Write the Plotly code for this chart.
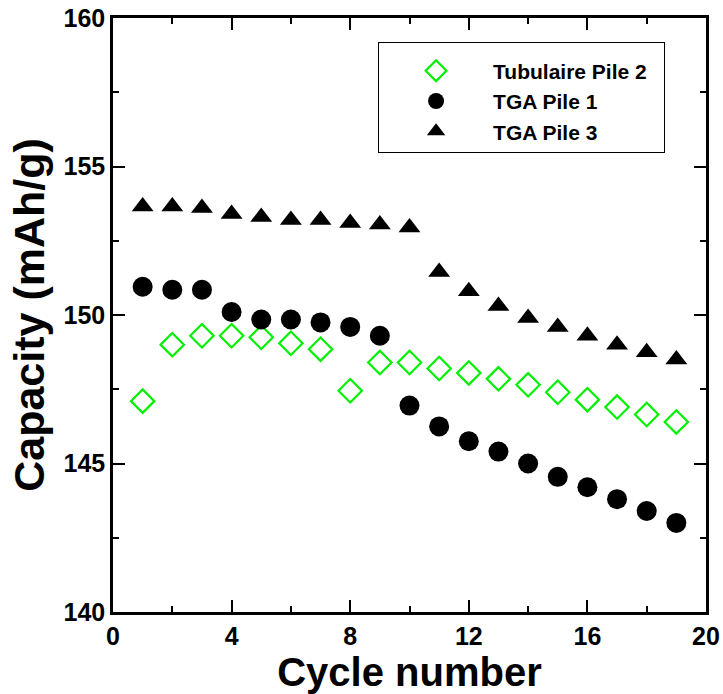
import plotly.graph_objects as go

# Discharge capacity per cycle
cycles = list(range(1, 20))
tubulaire_pile2 = [147.1, 149.0, 149.3, 149.3, 149.25, 149.05, 148.85, 147.45, 148.4, 148.4,
                   148.2, 148.05, 147.85, 147.65, 147.4, 147.15, 146.9, 146.65, 146.4]
tga_pile1 = [150.95, 150.85, 150.85, 150.1, 149.85, 149.85, 149.75, 149.6, 149.3, 146.95,
             146.25, 145.75, 145.4, 145.0, 144.55, 144.2, 143.8, 143.4, 143.0]
tga_pile3 = [153.65, 153.65, 153.6, 153.4, 153.3, 153.2, 153.2, 153.1, 153.05, 152.95,
             151.45, 150.8, 150.3, 149.9, 149.6, 149.3, 149.0, 148.75, 148.5]

# Axis tick positions
x_ticks = [0, 4, 8, 12, 16, 20]
y_ticks = [140, 145, 150, 155, 160]

FONT = "Liberation Sans"
GREEN = "#00f000"

fig = go.Figure()
fig.add_trace(go.Scatter(
    x=cycles, y=tubulaire_pile2, mode="markers", name="Tubulaire Pile 2&nbsp;&nbsp;",
    legendgroup="a",
    marker=dict(symbol="diamond-open", size=18, color=GREEN, line=dict(width=2.2, color=GREEN)),
))
fig.add_trace(go.Scatter(
    x=cycles, y=tga_pile1, mode="markers", name="TGA Pile 1",
    legendgroup="b",
    marker=dict(symbol="circle", size=20, color="black"),
))
fig.add_trace(go.Scatter(
    x=cycles, y=tga_pile3, mode="markers", name="TGA Pile 3",
    legendgroup="c",
    marker=dict(symbol="triangle-up", size=19, color="black"),
))

tick_font = dict(family=FONT, size=25, color="black", weight="bold")

fig.update_xaxes(
    range=[0, 20], tickmode="array", tickvals=x_ticks,
    showline=True, linecolor="black", linewidth=2.5, mirror="ticks",
    ticks="inside", ticklen=12, tickwidth=2, tickcolor="black",
    showgrid=False, zeroline=False, automargin=False,
    tickfont=tick_font,
    minor=dict(ticks="inside", ticklen=6, tickwidth=2, tickcolor="black",
               tickvals=[2, 6, 10, 14, 18], showgrid=False),
    title=dict(text="Cycle number", font=dict(family=FONT, size=40, color="black", weight="bold"), standoff=4),
)
fig.update_yaxes(
    range=[140, 160], tickmode="array", tickvals=y_ticks,
    showline=True, linecolor="black", linewidth=2.5, mirror="ticks",
    ticks="inside", ticklen=12, tickwidth=2, tickcolor="black",
    showgrid=False, zeroline=False, automargin=False,
    tickfont=tick_font,
    minor=dict(ticks="inside", ticklen=6, tickwidth=2, tickcolor="black",
               tickvals=[142.5, 147.5, 152.5, 157.5], showgrid=False),
    title=dict(text="Capacity (mAh/g)", font=dict(family=FONT, size=43, color="black", weight="bold"), standoff=6),
)

fig.update_layout(
    width=723, height=694,
    margin=dict(l=113, r=17, t=18, b=82),
    paper_bgcolor="white", plot_bgcolor="white",
    showlegend=True,
    legend=dict(
        x=0.447, y=0.96, xanchor="left", yanchor="top",
        bordercolor="black", borderwidth=1, bgcolor="white",
        font=dict(family=FONT, size=21, color="black", weight="bold"),
        title=dict(text=" ", font=dict(size=6)),
        tracegroupgap=0, itemwidth=104,
    ),
)

fig.write_html("out.html")
